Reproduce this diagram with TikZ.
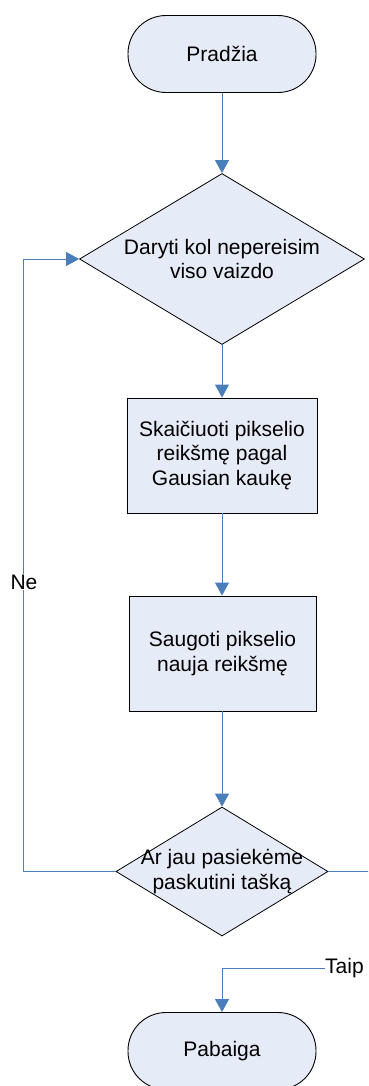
\documentclass[tikz,border=0pt]{standalone}
\usepackage{fontspec}
\setmainfont{Liberation Sans}
\usetikzlibrary{shapes.geometric,arrows.meta}
\definecolor{shapefill}{RGB}{230,236,247}
\definecolor{flowblue}{RGB}{74,126,187}
\tikzset{
  terminal/.style={draw=black, line width=0.9pt, fill=shapefill, rectangle,
    rounded corners=38pt, minimum width=188pt, minimum height=77pt,
    font=\fontsize{21}{24}\selectfont},
  process/.style={draw=black, line width=0.9pt, fill=shapefill, rectangle,
    minimum height=115pt, align=center, inner sep=0pt,
    font=\fontsize{21}{24.2}\selectfont},
  decision/.style={draw=black, line width=0.8pt, fill=shapefill, diamond,
    inner sep=0pt},
  lbl/.style={align=center, inner sep=0pt, font=\fontsize{21}{24.2}\selectfont},
  flow/.style={draw=flowblue, line width=1pt},
  flowarrow/.style={flow, -{Triangle[width=14pt,length=13pt]}},
}
\begin{document}
\begin{tikzpicture}[x=1pt,y=-1pt]
  \useasboundingbox (0,0) rectangle (368,1086);
  \clip (0,0) rectangle (368,1086);

  % shapes
  \node[terminal] (start) at (222,54) {Pradžia};
  \node[decision, minimum width=285pt, minimum height=171pt] (loop) at (222,259) {};
  \node[lbl] at (loop.center) {Daryti kol nepereisim\\viso vaizdo};
  \node[process, minimum width=190pt] (calc) at (222,455.5) {Skaičiuoti pikselio\\reikšmę pagal\\Gausian kaukę};
  \node[process, minimum width=187pt] (store) at (222.5,653.5) {Saugoti pikselio\\nauja reikšmę};
  \node[decision, minimum width=212pt, minimum height=129pt] (check) at (222,871.5) {};
  \node[lbl] at (check.center) {Ar jau pasiekėme\\paskutini tašką};
  \node[terminal] (end) at (222,1051) {Pabaiga};

  % exits and labels
  \coordinate (right) at (370,871.5);
  \coordinate (leftbend) at (23,871.5);
  \node[lbl, anchor=west] (taip) at (325,968.5) {Taip};

  % connectors
  \draw[flowarrow] (start.south) -- (loop.north);
  \draw[flowarrow] (loop.south) -- (calc.north);
  \draw[flowarrow] (calc.south) -- (store.north -| calc.south);
  \draw[flowarrow] (store.south -| check.north) -- (check.north);
  \draw[flowarrow] (check.west) -- (leftbend) |- (loop.west);
  \node[lbl, fill=white, inner sep=1pt] (ne) at (24,582) {Ne};
  \draw[flow] (check.east) -- (right);
  \draw[flowarrow] (taip.west) -| (end.north);
\end{tikzpicture}
\end{document}
